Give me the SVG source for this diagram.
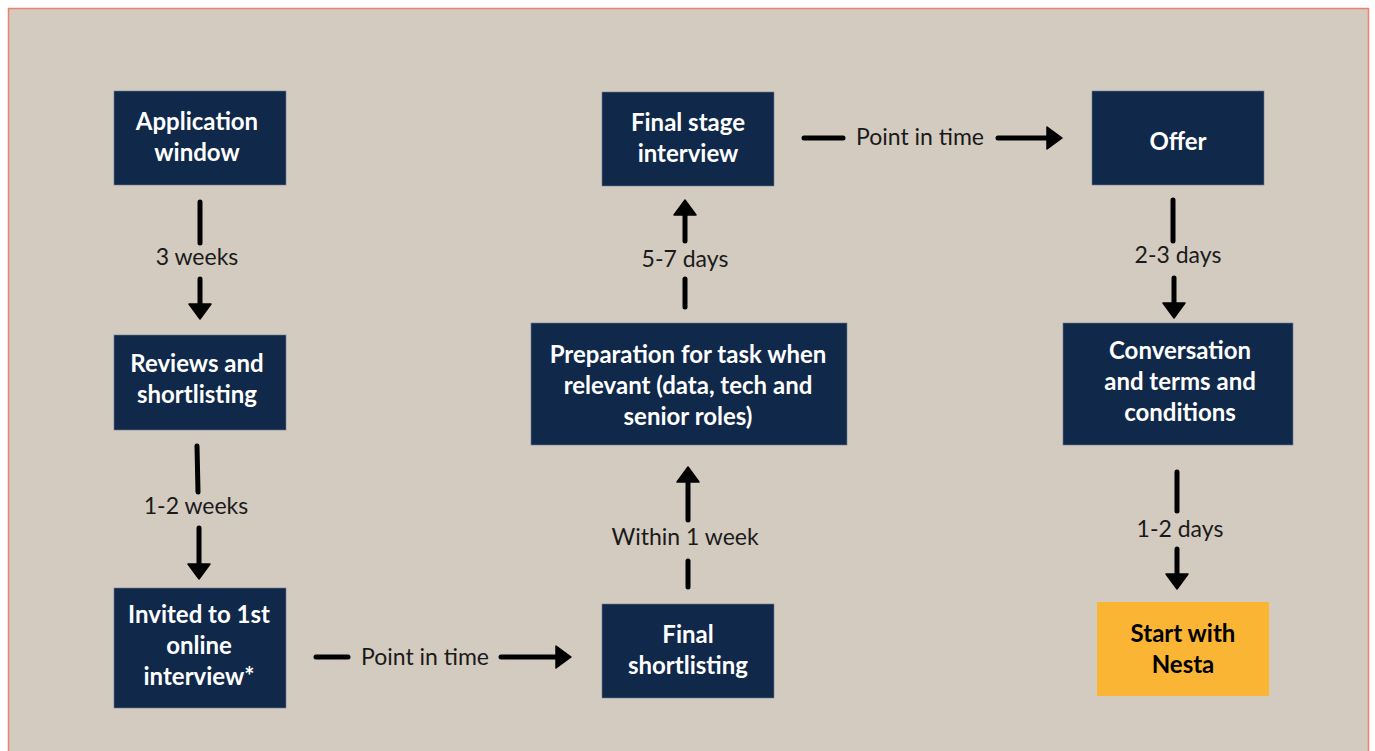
<svg xmlns="http://www.w3.org/2000/svg" width="1375" height="751" viewBox="0 0 1375 751">
<defs>
<style>
.node{fill:#10284a;stroke:#6b7a8f;stroke-width:0.6}
.yel{fill:#fbb534}
.nt{font-family:Lato,"Open Sans",sans-serif;font-weight:700;font-size:24px;fill:#ffffff;text-anchor:middle}
.nty{font-family:Lato,"Open Sans",sans-serif;font-weight:700;font-size:24px;fill:#000000;text-anchor:middle}
.lbl{font-family:Lato,"Open Sans",sans-serif;font-size:23px;fill:#1a1a1a;text-anchor:middle}
.ln{stroke:#000;stroke-width:5;stroke-linecap:round;fill:none}
</style>
<marker id="ah" markerUnits="userSpaceOnUse" markerWidth="24" markerHeight="24" viewBox="0 0 16 24" refX="1" refY="12" orient="auto">
<path d="M0,1 L15,12 L0,23 z" fill="#000" stroke="#000" stroke-width="1.5" stroke-linejoin="round"/>
</marker>
</defs>
<rect x="0" y="0" width="1375" height="751" fill="#ffffff"/>
<rect x="8.5" y="8.5" width="1360" height="750" fill="#d3cac0" stroke="#f0806e" stroke-width="1.5"/>

<g id="n-application">
<rect class="node" x="114" y="91" width="172" height="94"/>
<text class="nt" x="197" y="130">Application</text>
<text class="nt" x="197" y="161">window</text>
</g>
<g id="n-reviews">
<rect class="node" x="114" y="335" width="172" height="95"/>
<text class="nt" x="197" y="372">Reviews and</text>
<text class="nt" x="197" y="403">shortlisting</text>
</g>
<g id="n-invited">
<rect class="node" x="114" y="588" width="172" height="120"/>
<text class="nt" x="199" y="623">Invited to 1st</text>
<text class="nt" x="199" y="654">online</text>
<text class="nt" x="199" y="685">interview*</text>
</g>
<g id="n-finalshort">
<rect class="node" x="602" y="604" width="172" height="94"/>
<text class="nt" x="688" y="643">Final</text>
<text class="nt" x="688" y="674">shortlisting</text>
</g>
<g id="n-prep">
<rect class="node" x="531" y="323" width="316" height="122"/>
<text class="nt" x="688" y="363">Preparation for task when</text>
<text class="nt" x="688" y="394">relevant (data, tech and</text>
<text class="nt" x="688" y="425">senior roles)</text>
</g>
<g id="n-finalstage">
<rect class="node" x="602" y="92" width="172" height="94"/>
<text class="nt" x="688" y="131">Final stage</text>
<text class="nt" x="688" y="162">interview</text>
</g>
<g id="n-offer">
<rect class="node" x="1092" y="91" width="172" height="94"/>
<text class="nt" x="1178" y="150">Offer</text>
</g>
<g id="n-conversation">
<rect class="node" x="1063" y="323" width="230" height="122"/>
<text class="nt" x="1180" y="359">Conversation</text>
<text class="nt" x="1180" y="390">and terms and</text>
<text class="nt" x="1180" y="421">conditions</text>
</g>
<g id="n-start">
<rect class="yel" x="1097" y="602" width="172" height="94"/>
<text class="nty" x="1183" y="642">Start with</text>
<text class="nty" x="1183" y="673">Nesta</text>
</g>

<g id="connectors">
<path class="ln" d="M200,202 L200,243"/>
<path class="ln" d="M200,279 L200,305" marker-end="url(#ah)"/>
<text class="lbl" x="197" y="265">3 weeks</text>

<path class="ln" d="M197,446 L198,492"/>
<path class="ln" d="M199,528 L199,565" marker-end="url(#ah)"/>
<text class="lbl" x="196" y="514">1-2 weeks</text>

<path class="ln" d="M316,657 L348,657"/>
<path class="ln" d="M501,657 L557,657" marker-end="url(#ah)"/>
<text class="lbl" x="425" y="665">Point in time</text>

<path class="ln" d="M688,587 L688,561"/>
<path class="ln" d="M688,520 L688,481" marker-end="url(#ah)"/>
<text class="lbl" x="685" y="545">Within 1 week</text>

<path class="ln" d="M685,307 L685,279"/>
<path class="ln" d="M685,241 L685,214" marker-end="url(#ah)"/>
<text class="lbl" x="685" y="267">5-7 days</text>

<path class="ln" d="M804,138 L843,138"/>
<path class="ln" d="M998,138 L1048,138" marker-end="url(#ah)"/>
<text class="lbl" x="920" y="145">Point in time</text>

<path class="ln" d="M1173,200 L1173,241"/>
<path class="ln" d="M1174,278 L1174,304" marker-end="url(#ah)"/>
<text class="lbl" x="1178" y="263">2-3 days</text>

<path class="ln" d="M1177,472 L1177,511"/>
<path class="ln" d="M1177,549 L1177,575" marker-end="url(#ah)"/>
<text class="lbl" x="1180" y="537">1-2 days</text>
</g>
</svg>
